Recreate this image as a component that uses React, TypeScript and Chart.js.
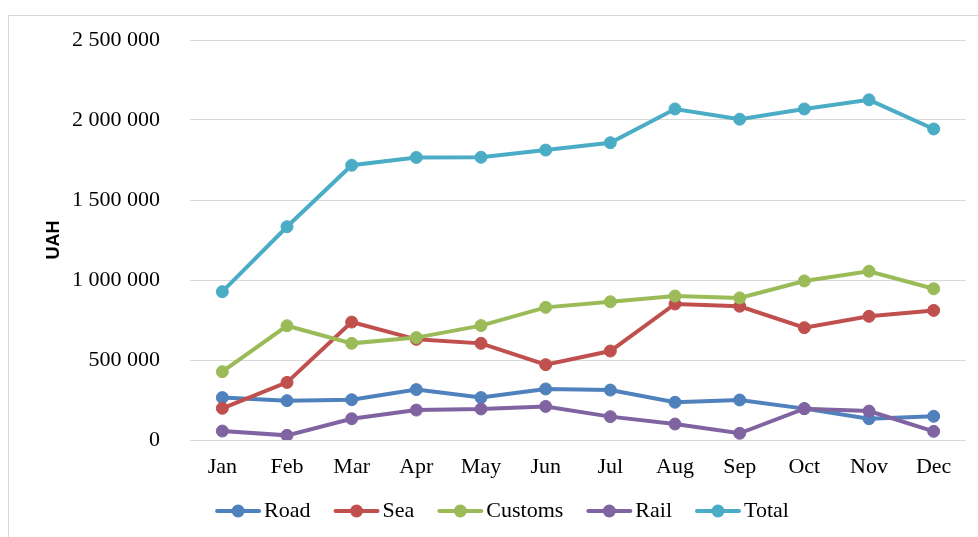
import React, { useEffect, useRef } from 'react';
import { Chart, registerables } from 'chart.js';

Chart.register(...registerables);

const months = ['Jan', 'Feb', 'Mar', 'Apr', 'May', 'Jun', 'Jul', 'Aug', 'Sep', 'Oct', 'Nov', 'Dec'];
const seriesNames = ['Road', 'Sea', 'Customs', 'Rail', 'Total'];
const road = [265000, 246000, 252000, 315000, 265000, 319000, 312000, 236000, 250000, 196000, 133000, 148000];
const sea = [198000, 360000, 737000, 629000, 604000, 471000, 556000, 850000, 836000, 702000, 773000, 810000];
const customs = [427000, 714000, 604000, 640000, 715000, 829000, 864000, 900000, 888000, 994000, 1055000, 945000];
const rail = [56000, 29000, 133000, 187000, 194000, 210000, 146000, 100000, 42000, 196000, 181000, 54000];
const total = [927000, 1333000, 1717000, 1766000, 1767000, 1812000, 1858000, 2069000, 2005000, 2069000, 2126000, 1944000];
const seriesColors = ['#4F81BD', '#C0504D', '#9BBB59', '#8064A2', '#4BACC6'];
const yMin = 0;
const yMax = 2500000;
const yStep = 500000;
const yTitle = 'UAH';

const SERIF = '"Liberation Serif", "Times New Roman", serif';
const SANS = '"Liberation Sans", Arial, sans-serif';

const fmt = (v: number) => String(v).replace(/\B(?=(\d{3})+(?!\d))/g, ' ');

const lineLegend = {
  id: 'lineLegend',
  afterDraw(chart: any) {
    const ctx = chart.ctx as CanvasRenderingContext2D;
    const ds = chart.data.datasets;
    const lineLen = 46;
    const textGap = 3;
    const itemGap = 23;
    const cy = 511;
    const cx = 502;
    ctx.save();
    ctx.font = `22px ${SERIF}`;
    const widths = ds.map((d: any) => lineLen + textGap + ctx.measureText(d.label).width);
    const totalW = widths.reduce((a: number, b: number) => a + b, 0) + itemGap * (ds.length - 1);
    let x = cx - totalW / 2;
    ds.forEach((d: any, i: number) => {
      ctx.strokeStyle = d.borderColor;
      ctx.lineWidth = 4;
      ctx.lineCap = 'round';
      ctx.beginPath();
      ctx.moveTo(x + 2, cy);
      ctx.lineTo(x + lineLen - 2, cy);
      ctx.stroke();
      ctx.fillStyle = d.borderColor;
      ctx.beginPath();
      ctx.arc(x + lineLen / 2, cy, 6.5, 0, Math.PI * 2);
      ctx.fill();
      ctx.fillStyle = '#000';
      ctx.textBaseline = 'middle';
      ctx.textAlign = 'left';
      ctx.fillText(d.label, x + lineLen + textGap, cy);
      x += widths[i] + itemGap;
    });
    ctx.restore();
  },
};

export default function App() {
  const ref = useRef<HTMLCanvasElement | null>(null);
  useEffect(() => {
    if (!ref.current) return;
    const values = [road, sea, customs, rail, total];
    const chart = new Chart(ref.current, {
      type: 'line',
      data: {
        labels: months,
        datasets: values.map((v, i) => ({
          label: seriesNames[i],
          data: v,
          borderColor: seriesColors[i],
          backgroundColor: seriesColors[i],
          pointBackgroundColor: seriesColors[i],
          pointBorderColor: seriesColors[i],
          borderWidth: 4,
          pointRadius: 6,
          pointBorderWidth: 1,
          tension: 0,
          fill: false,
          order: values.length - i,
        })),
      },
      options: {
        responsive: false,
        animation: false,
        layout: { padding: { left: 0, right: 12, top: 40, bottom: 0 } },
        plugins: {
          legend: { display: false },
          tooltip: { enabled: false },
        },
        scales: {
          x: {
            offset: true,
            grid: { display: false },
            border: { display: false },
            ticks: { color: '#000', font: { family: SERIF, size: 22 }, padding: 6, maxRotation: 0 },
            afterFit: (s: any) => {
              s.height = 97;
              s.paddingLeft = 0;
              s.paddingRight = 0;
            },
          },
          y: {
            min: yMin,
            max: yMax,
            grid: { color: '#d9d9d9', lineWidth: 1, drawTicks: false },
            border: { display: false },
            ticks: {
              stepSize: yStep,
              color: '#000',
              font: { family: SERIF, size: 22 },
              padding: 30,
              callback: (v: any) => fmt(Number(v)),
            },
            title: {
              display: true,
              text: yTitle,
              color: '#000',
              font: { family: SANS, size: 18, weight: 'bold' },
              padding: { top: 43, bottom: 0 },
            },
            afterFit: (s: any) => {
              s.width = 190;
              s.paddingTop = 0;
              s.paddingBottom = 0;
            },
          },
        },
      },
      plugins: [lineLegend],
    });
    return () => chart.destroy();
  }, []);
  return (
    <div>
      <div
        style={{
          position: 'fixed',
          left: 8,
          top: 15,
          right: -20,
          bottom: -20,
          border: '1px solid #d9d9d9',
          pointerEvents: 'none',
        }}
      />
      <canvas
        ref={ref}
        width={978}
        height={537}
        style={{ position: 'fixed', left: 0, top: 0, width: 978, height: 537 }}
      />
    </div>
  );
}
